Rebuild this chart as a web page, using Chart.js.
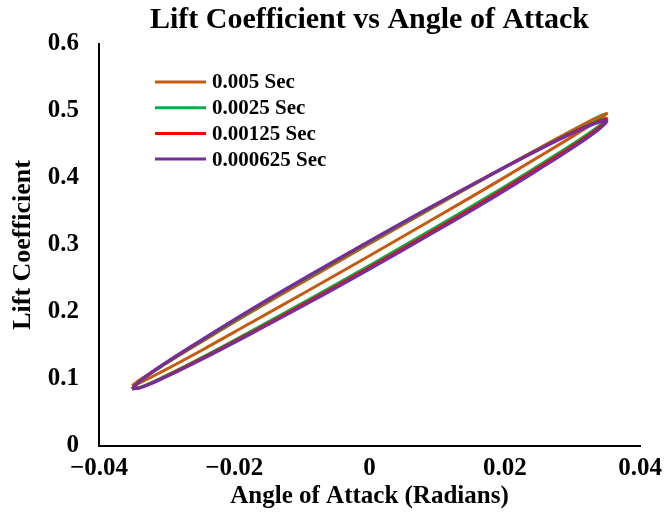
<!DOCTYPE html>
<html>
<head>
<meta charset="utf-8">
<script src="https://cdn.jsdelivr.net/npm/chart.js@4.4.1/dist/chart.umd.min.js"></script>
<style>
  html, body { margin: 0; padding: 0; background: #ffffff; }
  #wrap { width: 670px; height: 515px; position: relative; }
</style>
</head>
<body>
<div id="wrap"><canvas id="c" width="670" height="515"></canvas></div>
<script>
// Angle of attack (rad) around one pitching cycle: upstroke branch, then downstroke branch
const aoa = [-0.0351, -0.0339, -0.0304, -0.0248, -0.0176, -0.0091, 0, 0.0091, 0.0176, 0.0248, 0.0304, 0.0339, 0.0351,
             0.0339, 0.0304, 0.0248, 0.0176, 0.0091, 0, -0.0091, -0.0176, -0.0248, -0.0304, -0.0339, -0.0351];

// Lift coefficient for each time step size
const cl005 = [0.0899, 0.0991, 0.1216, 0.1558, 0.1992, 0.2491, 0.3020, 0.3543, 0.4024, 0.4430, 0.4734, 0.4915, 0.4961,
               0.4869, 0.4644, 0.4302, 0.3868, 0.3369, 0.2840, 0.2317, 0.1836, 0.1430, 0.1126, 0.0945, 0.0899];
const cl0025 = [0.0853, 0.0967, 0.1211, 0.1568, 0.2013, 0.2517, 0.3045, 0.3561, 0.4031, 0.4420, 0.4705, 0.4863, 0.4887,
                0.4773, 0.4529, 0.4172, 0.3727, 0.3223, 0.2695, 0.2179, 0.1709, 0.1320, 0.1035, 0.0877, 0.0853];
const cl00125 = [0.0853, 0.0971, 0.1220, 0.1579, 0.2025, 0.2529, 0.3055, 0.3567, 0.4033, 0.4417, 0.4696, 0.4849, 0.4867,
                 0.4749, 0.4500, 0.4141, 0.3695, 0.3191, 0.2665, 0.2153, 0.1687, 0.1303, 0.1024, 0.0871, 0.0853];
const cl000625 = [0.0854, 0.0976, 0.1226, 0.1587, 0.2034, 0.2536, 0.3060, 0.3570, 0.4030, 0.4409, 0.4684, 0.4832, 0.4846,
                  0.4724, 0.4474, 0.4113, 0.3666, 0.3164, 0.2640, 0.2130, 0.1670, 0.1291, 0.1016, 0.0868, 0.0854];

const seriesNames = ['0.005 Sec', '0.0025 Sec', '0.00125 Sec', '0.000625 Sec'];
const seriesColors = ['#C55A11', '#00B050', '#FF0000', '#7030A0'];
const xTickLabels = ['\u22120.04', '\u22120.02', '0', '0.02', '0.04'];
const yTickLabels = ['0', '0.1', '0.2', '0.3', '0.4', '0.5', '0.6'];

const FONT = '"Liberation Serif", "Times New Roman", serif';

function toPoints(ys) {
  return aoa.map((a, i) => ({ x: a, y: ys[i] }));
}

const seriesValues = [cl005, cl0025, cl00125, cl000625];
const datasets = seriesValues.map((vals, i) => ({
  label: seriesNames[i],
  data: toPoints(vals),
  showLine: true,
  borderColor: seriesColors[i],
  backgroundColor: seriesColors[i],
  borderWidth: 3,
  pointRadius: 0,
  tension: 0.4,
  fill: false,
  order: seriesValues.length - 1 - i   // finest step drawn on top
}));

// Legend drawn inside the plot area, upper left
const insideLegend = {
  id: 'insideLegend',
  afterDatasetsDraw(chart) {
    const { ctx, chartArea } = chart;
    const x0 = chartArea.left + 56;
    const y0 = chartArea.top + 38;
    const rowH = 25.7;
    ctx.save();
    ctx.font = 'bold 21px ' + FONT;
    ctx.textBaseline = 'middle';
    ctx.textAlign = 'left';
    chart.data.datasets.forEach((ds, i) => {
      const y = y0 + i * rowH;
      ctx.strokeStyle = ds.borderColor;
      ctx.lineWidth = 3;
      ctx.beginPath();
      ctx.moveTo(x0, y);
      ctx.lineTo(x0 + 51, y);
      ctx.stroke();
      ctx.fillStyle = '#000000';
      ctx.fillText(ds.label, x0 + 57, y + 1);
    });
    ctx.restore();
  }
};

new Chart(document.getElementById('c'), {
  type: 'scatter',
  data: { datasets },
  plugins: [insideLegend],
  options: {
    responsive: false,
    animation: false,
    devicePixelRatio: 1,
    layout: { padding: { left: 0, right: 30, top: 0, bottom: 0 } },
    plugins: {
      legend: { display: false },
      tooltip: { enabled: false },
      title: {
        display: true,
        fullSize: false,
        text: 'Lift Coefficient vs Angle of Attack',
        color: '#000000',
        font: { family: FONT, size: 30, weight: 'bold' },
        padding: { top: 2, bottom: 6 }
      }
    },
    scales: {
      x: {
        type: 'linear',
        min: -0.04,
        max: 0.04,
        grid: { display: false, drawTicks: false },
        border: { display: true, color: '#000000', width: 2 },
        ticks: {
          stepSize: 0.02,
          padding: 8,
          color: '#000000',
          font: { family: FONT, size: 25, weight: 'bold' },
          maxRotation: 0,
          callback: (v, i) => xTickLabels[i]
        },
        title: {
          display: true,
          text: 'Angle of Attack (Radians)',
          color: '#000000',
          font: { family: FONT, size: 25, weight: 'bold' },
          padding: { top: 0, bottom: 3 }
        },
        afterFit(scale) { scale.height = 69; }
      },
      y: {
        type: 'linear',
        min: 0,
        max: 0.6,
        grid: { display: false, drawTicks: false },
        border: { display: true, color: '#000000', width: 2 },
        ticks: {
          stepSize: 0.1,
          padding: 20,
          color: '#000000',
          font: { family: FONT, size: 25, weight: 'bold' },
          callback: (v, i) => yTickLabels[i]
        },
        title: {
          display: true,
          text: 'Lift Coefficient',
          color: '#000000',
          font: { family: FONT, size: 26, weight: 'bold' },
          padding: { top: 8, bottom: 0 }
        },
        afterFit(scale) { scale.width = 99; }
      }
    }
  }
});
</script>
</body>
</html>
